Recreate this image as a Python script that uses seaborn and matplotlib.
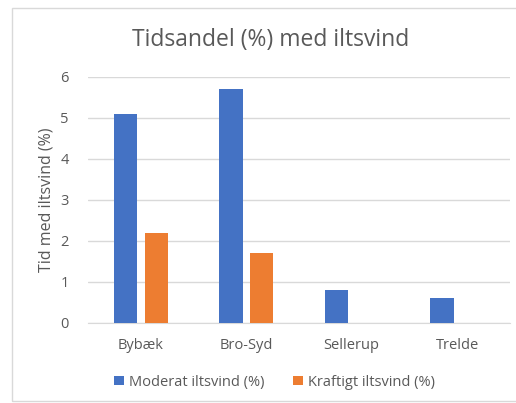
import pandas as pd
import matplotlib.pyplot as plt
import seaborn as sns
from matplotlib.patches import Rectangle

# Data
stations = ["Bybæk", "Bro-Syd", "Sellerup", "Trelde"]
moderat = [5.1, 5.7, 0.8, 0.6]
kraftigt = [2.2, 1.7, 0.0, 0.0]
series_names = ["Moderat iltsvind (%)", "Kraftigt iltsvind (%)"]

df = pd.DataFrame({
    "Station": stations * 2,
    "Serie": [series_names[0]] * 4 + [series_names[1]] * 4,
    "Værdi": moderat + kraftigt,
})

sns.set_style("white")
plt.rcParams["font.family"] = ["Open Sans", "DejaVu Sans"]
txt = "#595959"
grid = "#d9d9d9"

fig = plt.figure(figsize=(5.16, 4.03), dpi=100)
ax = fig.add_axes([0.171, 0.199, 0.817, 0.61])

sns.barplot(data=df, x="Station", y="Værdi", hue="Serie",
            palette=["#4472C4", "#ED7D31"], saturation=1,
            width=0.58, gap=0.235, linewidth=0,
            ax=ax, legend=True, zorder=3)

ax.set_ylim(0, 6)
ax.set_xlim(-0.5, 3.5)
ax.set_yticks(range(0, 7))
ax.yaxis.grid(True, color=grid, linewidth=1, zorder=0)
ax.set_axisbelow(True)
for s in ["top", "right", "left"]:
    ax.spines[s].set_visible(False)
ax.spines["bottom"].set_color(grid)
ax.tick_params(axis="both", length=0, colors=txt, labelsize=10.5)
ax.tick_params(axis="x", pad=11)
ax.tick_params(axis="y", pad=14)
ax.set_xlabel("")
ax.set_ylabel("Tid med iltsvind (%)", color=txt, fontsize=11.5, labelpad=4)

fig.text(0.524, 0.9, "Tidsandel (%) med iltsvind", ha="center", va="center",
         color=txt, fontsize=16.5)

handles, labels = ax.get_legend_handles_labels()
ax.legend_.remove()
fig.legend(handles, labels, loc="center", bbox_to_anchor=(0.532, 0.052),
           ncol=2, frameon=False, fontsize=10.5, labelcolor=txt,
           handlelength=0.65, handleheight=0.65, handletextpad=0.35,
           columnspacing=2.0)

# chart border
fig.patches.append(Rectangle((12 / 516, 2 / 403), 1.0, 1 - 10 / 403,
                             transform=fig.transFigure, fill=False,
                             edgecolor="#d9d9d9", linewidth=1))

plt.savefig("out.png", dpi=100)
